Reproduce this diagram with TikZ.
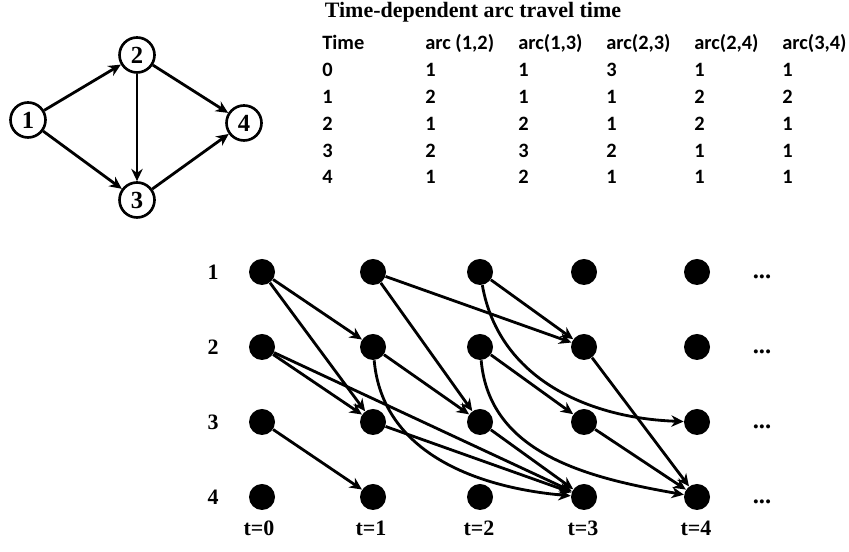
\documentclass[tikz,border=0pt]{standalone}
\usepackage{fontspec}
\setmainfont{Liberation Serif}
\newfontfamily\tablefont{Carlito}
\usetikzlibrary{arrows.meta}

\tikzset{
  vertex/.style={circle, draw, line width=1.5pt, minimum size=0.70cm, inner sep=0pt,
    font=\fontsize{14}{16}\selectfont\bfseries},
  dot/.style={circle, fill, minimum size=0.52cm, inner sep=0pt},
  arc/.style={->, line width=1.6pt},
  cell/.style={anchor=base west, inner sep=0pt, font=\tablefont\fontsize{11.6}{14}\selectfont\bfseries},
  lbl/.style={inner sep=0pt, font=\fontsize{12.5}{15}\selectfont\bfseries}
}

\begin{document}
\begin{tikzpicture}[>={Stealth[length=7pt,width=6.5pt]}]
    \useasboundingbox (0,0) rectangle (16.98,11.04);

    % Network
    \node[vertex] (n1) at (0.56,8.64) {1};
    \node[vertex] (n2) at (2.74,9.94) {2};
    \node[vertex] (n3) at (2.74,7.04) {3};
    \node[vertex] (n4) at (4.88,8.58) {4};
    \foreach \a/\b in {1/2, 1/3, 2/3, 2/4, 3/4} \draw[arc] (n\a) -- (n\b);

    % Travel time table
    \node[anchor=base, font=\fontsize{12.5}{15}\selectfont\bfseries] (title) at (9.46,10.68) {Time-dependent arc travel time};
    \node[cell] (h0) at (6.44,10.04) {Time};
    \node[cell] (h1) at (8.50,10.04) {arc (1,2)};
    \node[cell] (h2) at (10.36,10.04) {arc(1,3)};
    \node[cell] (h3) at (12.12,10.04) {arc(2,3)};
    \node[cell] (h4) at (13.88,10.04) {arc(2,4)};
    \node[cell] (h5) at (15.64,10.04) {arc(3,4)};
    \foreach \r/\a/\b/\c/\d/\e in {0/1/1/3/1/1, 1/2/1/1/2/2, 2/1/2/1/2/1, 3/2/3/2/1/1, 4/1/2/1/1/1} {
        \pgfmathsetmacro{\yy}{9.50-0.535*\r}
        \node[cell] (c\r-0) at (6.44,\yy) {\r};
        \node[cell] (c\r-1) at (8.50,\yy) {\a};
        \node[cell] (c\r-2) at (10.36,\yy) {\b};
        \node[cell] (c\r-3) at (12.12,\yy) {\c};
        \node[cell] (c\r-4) at (13.88,\yy) {\d};
        \node[cell] (c\r-5) at (15.64,\yy) {\e};
    }

    % Time-expanded network
    \foreach \i/\y in {1/5.60, 2/4.10, 3/2.60, 4/1.10} {
        \node[lbl] (row\i) at (4.26,\y) {\i};
        \foreach \t/\x in {0/5.24, 1/7.46, 2/9.60, 3/11.68, 4/13.94}
            \node[dot] (p\i\t) at (\x,\y) {};
        \node[lbl, anchor=base, font=\fontsize{14}{16}\selectfont\bfseries] (more\i) at (15.24,\y-0.14) {...};
    }
    \foreach \t/\x in {0/5.18, 1/7.42, 2/9.58, 3/11.66, 4/13.92}
        \node[lbl] (time\t) at (\x,0.48) {t=\t};

    % Arcs between time copies
    \foreach \a/\b in {10/21, 10/31, 20/31, 20/43, 30/41, 11/23, 11/32, 21/32, 31/43,
                       12/23, 22/33, 32/43, 23/44, 33/44}
        \draw[arc] (p\a) -- (p\b);
    \draw[arc] (p21) to[out=-85, in=175] (p43);
    \draw[arc] (p22) to[out=-85, in=170] (p44);
    \draw[arc] (p12) to[out=-80, in=178] (p34);
\end{tikzpicture}
\end{document}
